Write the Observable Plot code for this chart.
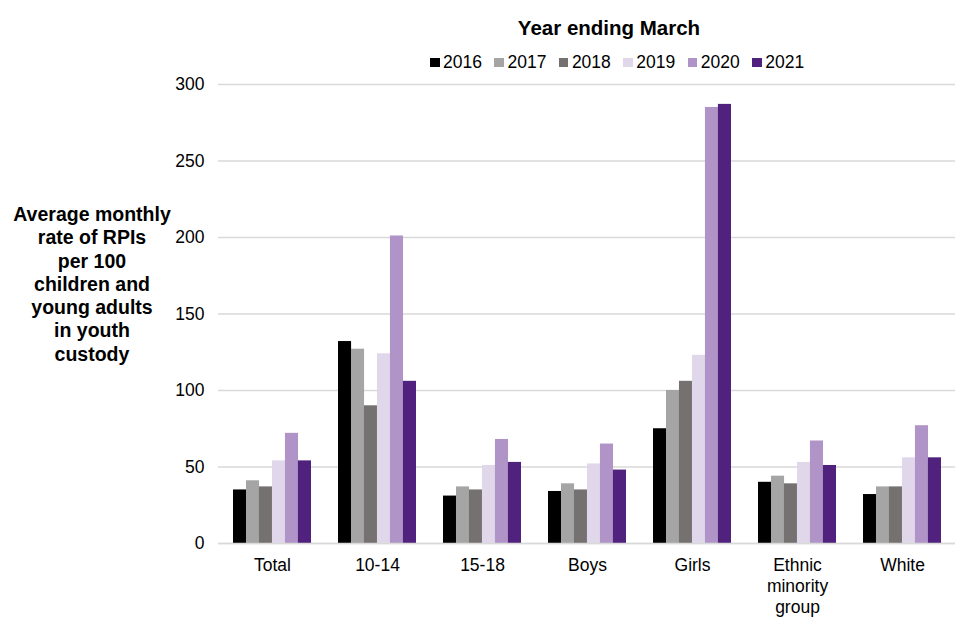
<!DOCTYPE html>
<html>
<head>
<meta charset="utf-8">
<script src="https://cdn.jsdelivr.net/npm/d3@7"></script>
<script src="https://cdn.jsdelivr.net/npm/@observablehq/plot@0.6"></script>
<style>
  body { margin: 0; background: #fff; font-family: "Liberation Sans", Arial, sans-serif; }
  #wrap { position: relative; width: 960px; height: 640px; }
  #wrap svg { position: absolute; left: 0; top: 0; }
  #title { position: absolute; left: 409px; width: 400px; top: 16px; text-align: center; font-weight: bold; font-size: 20.5px; color: #000; }
  #legend { position: absolute; left: 430px; top: 52px; display: flex; font-size: 17.5px; color: #000; }
  .item { display: flex; align-items: center; margin-right: 12.5px; }
  .sw { width: 9.5px; height: 9.5px; margin-right: 3.5px; }
  #ytitle { position: absolute; left: 0px; width: 184px; top: 203px; text-align: center; font-weight: bold; font-size: 19.5px; line-height: 23.3px; color: #000; }
</style>
</head>
<body>
<div id="wrap">
  <div id="title">Year ending March</div>
  <div id="legend"></div>
  <div id="ytitle">Average monthly<br>rate of RPIs<br>per 100<br>children and<br>young adults<br>in youth<br>custody</div>
</div>
<script>
const categories = ["Total", "10-14", "15-18", "Boys", "Girls", "Ethnic minority group", "White"];
const categoryLabels = ["Total", "10-14", "15-18", "Boys", "Girls", "Ethnic\nminority\ngroup", "White"];
const years = ["2016", "2017", "2018", "2019", "2020", "2021"];
const colors = ["#000000", "#a5a5a5", "#767171", "#e0d7eb", "#b094c7", "#50227d"];
const v2016 = [35, 132, 31, 34, 75, 40, 32];
const v2017 = [41, 127, 37, 39, 100, 44, 37];
const v2018 = [37, 90, 35, 35, 106, 39, 37];
const v2019 = [54, 124, 51, 52, 123, 53, 56];
const v2020 = [72, 201, 68, 65, 285, 67, 77];
const v2021 = [54, 106, 53, 48, 287, 51, 56];
const series = [v2016, v2017, v2018, v2019, v2020, v2021];
const yTicks = [0, 50, 100, 150, 200, 250, 300];

const legend = document.getElementById("legend");
years.forEach((yr, j) => {
  const it = document.createElement("div");
  it.className = "item";
  it.innerHTML = `<span class="sw" style="background:${colors[j]}"></span><span>${yr}</span>`;
  legend.appendChild(it);
});

const W = 960, mL = 218, mR = 5;
const padInner = 0.26, padOuter = 0.13;
const step = (W - mL - mR) / (categories.length - padInner + 2 * padOuter);
const barW = step * (1 - padInner) / years.length;

const barMarks = years.map((yr, j) => {
  const rows = categories.map((c, i) => ({category: c, year: yr, value: series[j][i]}));
  return Plot.barY(rows, {
    x: "category", y: "value", fill: colors[j],
    insetLeft: j * barW, insetRight: (years.length - 1 - j) * barW
  });
});

const chart = Plot.plot({
  width: W,
  height: 640,
  marginLeft: mL,
  marginRight: mR,
  marginTop: 84,
  marginBottom: 97,
  style: {fontFamily: "Liberation Sans, Arial, sans-serif", fontSize: "17.5px", color: "#000", background: "transparent"},
  x: {domain: categories, paddingInner: padInner, paddingOuter: padOuter, label: null},
  y: {domain: [0, 300], label: null},
  marks: [
    Plot.gridY(yTicks, {stroke: "#d9d9d9", strokeOpacity: 1, strokeWidth: 1.3}),
    Plot.axisY({ticks: yTicks, tickSize: 0, tickPadding: 14, label: null, fontSize: 17.5}),
    Plot.axisX({anchor: "bottom", tickSize: 0, tickPadding: 13, label: null, fontSize: 17.5, lineHeight: 1.2,
      tickFormat: d => categoryLabels[categories.indexOf(d)]}),
    ...barMarks,
    Plot.ruleY([0], {stroke: "#d9d9d9", strokeWidth: 1.3})
  ]
});
document.getElementById("wrap").prepend(chart);
</script>
</body>
</html>
